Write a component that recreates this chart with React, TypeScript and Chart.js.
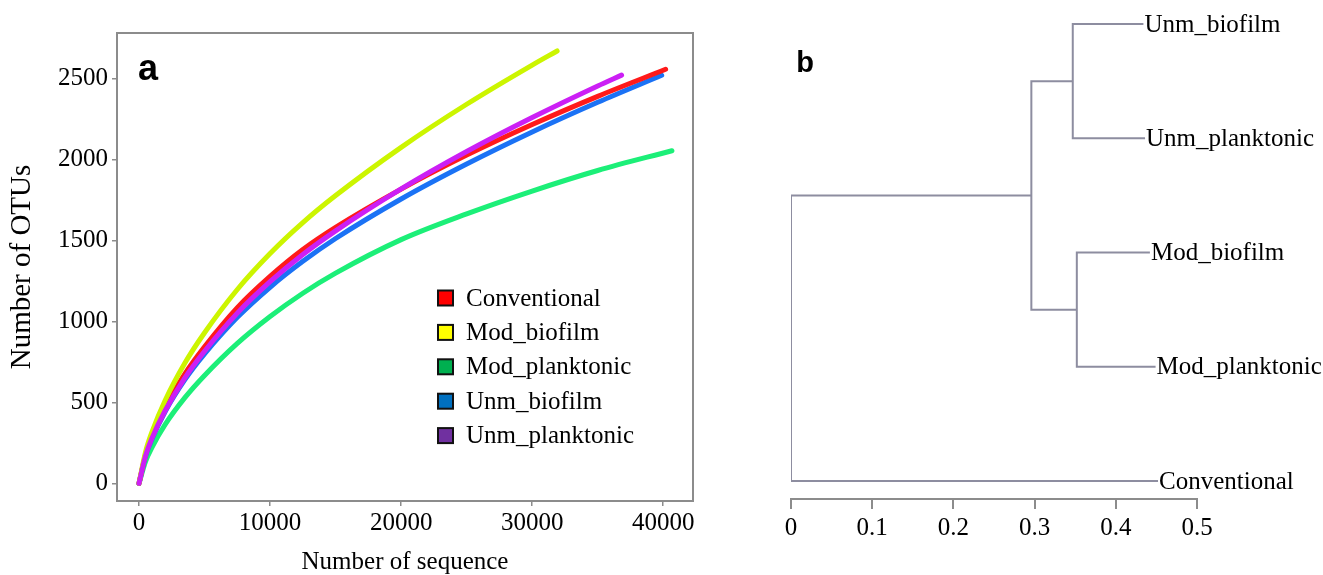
import React, { useEffect, useRef } from "react";
import { Chart, registerables } from "chart.js";

Chart.register(...registerables);

const SERIF = "'Liberation Serif', 'Times New Roman', Times, serif";
const SANS = "'Liberation Sans', Arial, Helvetica, sans-serif";

// ---------- Panel a: rarefaction curves ----------
const seriesNames = ["Conventional", "Mod_biofilm", "Mod_planktonic", "Unm_biofilm", "Unm_planktonic"];

const conventionalSeq = [0, 500, 1000, 2000, 3500, 5000, 7500, 10000, 12500, 15000, 20000, 25000, 30000, 35000, 40180];
const conventionalOTUs = [0, 179, 293, 469, 676, 843, 1085, 1278, 1444, 1581, 1817, 2027, 2216, 2390, 2557];

const modBiofilmSeq = [0, 500, 1000, 2000, 3500, 5000, 7500, 10000, 12500, 15000, 20000, 25000, 30000, 31900];
const modBiofilmOTUs = [0, 195, 320, 513, 743, 930, 1197, 1419, 1610, 1777, 2075, 2341, 2583, 2670];

const modPlanktonicSeq = [0, 500, 1000, 2000, 3500, 5000, 7500, 10000, 12500, 15000, 20000, 25000, 30000, 35000, 40660];
const modPlanktonicOTUs = [0, 136, 224, 364, 529, 666, 864, 1030, 1174, 1298, 1505, 1664, 1805, 1932, 2054];

const unmBiofilmSeq = [0, 500, 1000, 2000, 3500, 5000, 7500, 10000, 12500, 15000, 20000, 25000, 30000, 35000, 39880];
const unmBiofilmOTUs = [0, 169, 277, 444, 640, 799, 1025, 1211, 1371, 1512, 1756, 1972, 2170, 2353, 2520];

const unmPlanktonicSeq = [0, 500, 1000, 2000, 3500, 5000, 7500, 10000, 12500, 15000, 20000, 25000, 30000, 35000, 36820];
const unmPlanktonicOTUs = [0, 171, 281, 450, 652, 816, 1051, 1245, 1413, 1559, 1818, 2049, 2259, 2454, 2521];

const seqTicks = [0, 10000, 20000, 30000, 40000];
const otuTicks = [0, 500, 1000, 1500, 2000, 2500];

const seriesSeq = [conventionalSeq, modBiofilmSeq, modPlanktonicSeq, unmBiofilmSeq, unmPlanktonicSeq];
const seriesOTUs = [conventionalOTUs, modBiofilmOTUs, modPlanktonicOTUs, unmBiofilmOTUs, unmPlanktonicOTUs];

// styles
const lineColors = ["#ff1a1a", "#ccf500", "#1cef78", "#1b72f5", "#cc1ff5"];
const legendColors = ["#ff0000", "#ffff00", "#00b050", "#0070c0", "#7030a0"];
const drawOrder = [2, 1, 4, 3, 0];

// ---------- Panel b: dendrogram ----------
const leafLabels = ["Unm_biofilm", "Unm_planktonic", "Mod_biofilm", "Mod_planktonic", "Conventional"];
const leafRank = [4, 3, 2, 1, 0];
const leafTipDistance = [0.434, 0.436, 0.442, 0.449, 0.452];
const mergeChildren: [number, number][] = [[0, 1], [2, 3], [5, 6], [7, 4]];
const mergeDistance = [0.347, 0.352, 0.296, 0];
const distanceTicks = [0, 0.1, 0.2, 0.3, 0.4, 0.5];

function buildDendroPaths() {
  const nodeX: number[] = [...leafTipDistance];
  const nodeY: number[] = [...leafRank];
  const paths: { x: number; y: number }[][] = [];
  mergeChildren.forEach(([a, b], i) => {
    const h = mergeDistance[i];
    paths.push([
      { x: nodeX[a], y: nodeY[a] },
      { x: h, y: nodeY[a] },
      { x: h, y: nodeY[b] },
      { x: nodeX[b], y: nodeY[b] },
    ]);
    nodeX.push(h);
    nodeY.push((nodeY[a] + nodeY[b]) / 2);
  });
  return paths;
}

const AXIS_GRAY = "#8c8c8c";

const framePlugin = {
  id: "frameA",
  afterDraw(chart: any) {
    const { ctx, chartArea: a } = chart;
    ctx.save();
    ctx.strokeStyle = AXIS_GRAY;
    ctx.lineWidth = 2;
    ctx.strokeRect(a.left, a.top, a.right - a.left, a.bottom - a.top);
    ctx.restore();
  },
};

const legendPlugin = {
  id: "legendA",
  afterDraw(chart: any) {
    const { ctx, chartArea: a } = chart;
    const boxX = a.left + 321;
    const textX = a.left + 349;
    const firstY = 298;
    const step = 34.4;
    ctx.save();
    ctx.font = `25px ${SERIF}`;
    ctx.textBaseline = "middle";
    ctx.textAlign = "left";
    seriesNames.forEach((name, i) => {
      const cy = firstY + i * step;
      ctx.fillStyle = legendColors[i];
      ctx.fillRect(boxX, cy - 7.5, 15, 15);
      ctx.strokeStyle = "#111";
      ctx.lineWidth = 2;
      ctx.strokeRect(boxX, cy - 7.5, 15, 15);
      ctx.fillStyle = "#000";
      ctx.fillText(name, textX, cy + 1);
    });
    ctx.font = `bold 36px ${SANS}`;
    ctx.textAlign = "center";
    ctx.fillText("a", 148, 70);
    ctx.restore();
  },
};

const leafLabelPlugin = {
  id: "leafLabels",
  afterDraw(chart: any) {
    const { ctx } = chart;
    const xs = chart.scales.x;
    const ys = chart.scales.y;
    ctx.save();
    ctx.font = `25px ${SERIF}`;
    ctx.fillStyle = "#000";
    ctx.textBaseline = "middle";
    ctx.textAlign = "left";
    leafLabels.forEach((name, i) => {
      const x = xs.getPixelForValue(leafTipDistance[i]) + 1;
      const y = ys.getPixelForValue(leafRank[i]);
      ctx.fillText(name, x, y + 1);
    });
    ctx.font = `bold 29px ${SANS}`;
    ctx.textAlign = "center";
    ctx.fillText("b", 105, 64);
    ctx.restore();
  },
};

export default function App() {
  const refA = useRef<HTMLCanvasElement>(null);
  const refB = useRef<HTMLCanvasElement>(null);

  useEffect(() => {
    const datasetsA = seriesNames.map((name, i) => ({
      label: name,
      data: seriesSeq[i].map((x, j) => ({ x, y: seriesOTUs[i][j] })),
      showLine: true,
      borderColor: lineColors[i],
      backgroundColor: lineColors[i],
      borderWidth: 5,
      pointRadius: 0,
      fill: false,
      cubicInterpolationMode: "monotone" as const,
      borderCapStyle: "round" as const,
      borderJoinStyle: "round" as const,
      order: drawOrder[i],
    }));

    const chartA = new Chart(refA.current!, {
      type: "scatter",
      data: { datasets: datasetsA },
      options: {
        responsive: false,
        animation: false,
        devicePixelRatio: 1,
        layout: { padding: { left: 0, right: 7, top: 33, bottom: 0 } },
        plugins: { legend: { display: false }, tooltip: { enabled: false } },
        scales: {
          x: {
            type: "linear",
            min: -1680,
            max: 42270,
            afterBuildTicks: (s: any) => {
              s.ticks = seqTicks.map((v) => ({ value: v }));
            },
            afterFit: (s: any) => {
              s.height = 74;
            },
            grid: { drawOnChartArea: false, drawTicks: true, tickLength: 5, color: AXIS_GRAY, lineWidth: 1.5 },
            border: { display: false },
            ticks: {
              color: "#000",
              font: { family: SERIF, size: 25 },
              padding: 2,
              maxRotation: 0,
              autoSkip: false,
              callback: (v: any) => String(v),
            },
            title: {
              display: true,
              text: "Number of sequence",
              color: "#000",
              font: { family: SERIF, size: 25, lineHeight: 1.0 },
              padding: { top: 0, bottom: 0 },
            },
          },
          y: {
            type: "linear",
            min: -109,
            max: 2781,
            afterBuildTicks: (s: any) => {
              s.ticks = otuTicks.map((v) => ({ value: v }));
            },
            afterFit: (s: any) => {
              s.width = 117;
            },
            grid: { drawOnChartArea: false, drawTicks: true, tickLength: 5, color: AXIS_GRAY, lineWidth: 1.5 },
            border: { display: false },
            ticks: {
              color: "#000",
              font: { family: SERIF, size: 25 },
              padding: 4,
              autoSkip: false,
              callback: (v: any) => String(v),
            },
            title: {
              display: true,
              text: "Number of OTUs",
              color: "#000",
              font: { family: SERIF, size: 29, lineHeight: 1.0 },
              padding: { top: 8, bottom: 0 },
            },
          },
        },
      },
      plugins: [framePlugin, legendPlugin],
    } as any);

    const paths = buildDendroPaths();
    const datasetsB = paths.map((p, i) => ({
      label: `branch${i}`,
      data: p,
      showLine: true,
      borderColor: "#8d8da0",
      borderWidth: 2,
      pointRadius: 0,
      tension: 0,
      fill: false,
    }));

    const chartB = new Chart(refB.current!, {
      type: "scatter",
      data: { datasets: datasetsB },
      options: {
        responsive: false,
        animation: false,
        devicePixelRatio: 1,
        layout: { padding: { left: 91, right: 126, top: 10, bottom: 0 } },
        plugins: { legend: { display: false }, tooltip: { enabled: false } },
        scales: {
          x: {
            type: "linear",
            min: 0,
            max: 0.5,
            afterBuildTicks: (s: any) => {
              s.ticks = distanceTicks.map((v) => ({ value: v }));
            },
            afterFit: (s: any) => {
              s.height = 76;
            },
            grid: { drawOnChartArea: false, drawTicks: true, tickLength: 10, color: AXIS_GRAY, lineWidth: 2 },
            border: { display: true, color: AXIS_GRAY, width: 2 },
            ticks: {
              color: "#000",
              font: { family: SERIF, size: 25 },
              padding: 4,
              maxRotation: 0,
              autoSkip: false,
              callback: (v: any) => (v === 0 ? "0" : Number(v).toFixed(1)),
            },
          },
          y: {
            type: "linear",
            display: false,
            min: -0.1575,
            max: 4.1226,
          },
        },
      },
      plugins: [leafLabelPlugin],
    } as any);

    return () => {
      chartA.destroy();
      chartB.destroy();
    };
  }, []);

  return (
    <div style={{ position: "absolute", left: 0, top: 0, width: 1323, height: 575, background: "#fff" }}>
      <canvas
        ref={refA}
        width={700}
        height={575}
        style={{ position: "absolute", left: 0, top: 0, width: 700, height: 575 }}
      />
      <canvas
        ref={refB}
        width={623}
        height={575}
        style={{ position: "absolute", left: 700, top: 0, width: 623, height: 575 }}
      />
    </div>
  );
}
